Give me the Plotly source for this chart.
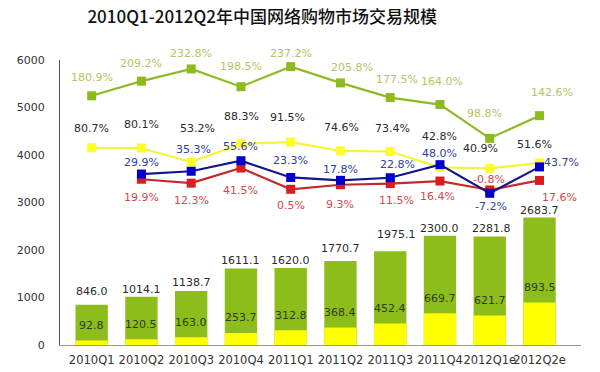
import plotly.graph_objects as go

categories = ['2010Q1', '2010Q2', '2010Q3', '2010Q4', '2011Q1', '2011Q2',
              '2011Q3', '2011Q4', '2012Q1e', '2012Q2e']
total_scale = [846.0, 1014.1, 1138.7, 1611.1, 1620.0, 1770.7, 1975.1, 2300.0, 2281.8, 2683.7]
part_scale = [92.8, 120.5, 163.0, 253.7, 312.8, 368.4, 452.4, 669.7, 621.7, 893.5]
growth_green = [180.9, 209.2, 232.8, 198.5, 237.2, 205.8, 177.5, 164.0, 98.8, 142.6]
growth_yellow = [80.7, 80.1, 53.2, 88.3, 91.5, 74.6, 73.4, 42.8, 40.9, 51.6]
growth_blue = [None, 29.9, 35.3, 55.6, 23.3, 17.8, 22.8, 48.0, -7.2, 43.7]
growth_red = [None, 19.9, 12.3, 41.5, 0.5, 9.3, 11.5, 16.4, -0.8, 17.6]

# label offsets (pixels) – styling only
green_dy = [18, 18, 15, 20, 13, 15, 18, 23, 25, 23]
green_dx = [0, 0, 0, 0, 0, 12, 7, 2, -5, 12]
yellow_dy = [19, 24, 33, 27, 25, 23, 23, 31, 20, 18]
yellow_dx = [0, 0, 6, 1, -3, 1, 2, 0, -9, -5]
blue_dy = [0, 12, 22, 14, 17, 11, 13, 11, -13, 4]
blue_dx = [0, 0, 2, 0, 0, 0, 7, 0, 1, 22]
red_dy = [0, -18, -17, -22, -16, -20, -17, -15, 10, -17]
red_dx = [0, 0, 0, 0, 0, 0, 6, -2, -1, 20]
total_dy = [13, 7, 8, 8, 8, 12, 17, 7, 8, 7]
total_dx = [0, 0, 0, 0, 0, 0, 6, 0, 2, 0]

GREEN = '#8CBD1A'
YELLOW = '#FFFF00'
FONT = 'DejaVu Sans'

fig = go.Figure()
fig.add_trace(go.Bar(x=categories, y=total_scale, marker_color=GREEN, marker_line_width=0,
                     hoverinfo='skip'))
fig.add_trace(go.Bar(x=categories, y=part_scale, marker_color=YELLOW, marker_line_width=0,
                     hoverinfo='skip'))

def line(vals, lc, mc):
    return go.Scatter(x=categories, y=vals, yaxis='y2', mode='lines+markers',
                      line=dict(color=lc, width=2.2),
                      marker=dict(symbol='square', size=9, color=mc),
                      hoverinfo='skip')

fig.add_trace(line(growth_green, '#8DBA25', '#8DBA1C'))
fig.add_trace(line(growth_yellow, '#F4F440', '#FFFF26'))
fig.add_trace(line(growth_red, '#C42A2A', '#D81E1E'))
fig.add_trace(line(growth_blue, '#14148C', '#0000CC'))

ann = []
def add_labels(vals, dys, dxs, color, yref):
    for c, v, dy, dx in zip(categories, vals, dys, dxs):
        if v is None:
            continue
        ann.append(dict(x=c, y=v, xref='x', yref=yref, text=f'{v:.1f}%', showarrow=False,
                        yshift=dy, xshift=dx, font=dict(family=FONT, size=11, color=color)))

add_labels(growth_green, green_dy, green_dx, '#B4C460', 'y2')
add_labels(growth_yellow, yellow_dy, yellow_dx, '#2A2A2A', 'y2')
add_labels(growth_blue, blue_dy, blue_dx, '#3040A0', 'y2')
add_labels(growth_red, red_dy, red_dx, '#D84848', 'y2')

for c, v, dy, dx in zip(categories, total_scale, total_dy, total_dx):
    ann.append(dict(x=c, y=v, xref='x', yref='y', text=f'{v:.1f}', showarrow=False,
                    yshift=dy, xshift=dx, font=dict(family=FONT, size=11, color='#2A2A2A')))
for c, v in zip(categories, part_scale):
    ann.append(dict(x=c, y=v, xref='x', yref='y', text=f'{v:.1f}', showarrow=False,
                    yshift=15, font=dict(family=FONT, size=11, color='#2F3A20')))

fig.update_layout(
    width=600, height=372,
    margin=dict(l=60, r=19, t=60, b=27),
    paper_bgcolor='white', plot_bgcolor='white',
    barmode='overlay', bargap=0.35,
    showlegend=False,
    title=dict(text='2010Q1-2012Q2年中国网络购物市场交易规模', x=0.437, xanchor='center',
               y=0.954, yanchor='middle',
               font=dict(family='Noto Sans CJK SC', size=17, color='#111111', weight=500)),
    xaxis=dict(type='category', tickangle=0, showline=True, linecolor='#999999', linewidth=1,
               ticks='', showgrid=False, ticklabelstandoff=4, automargin=False,
               tickfont=dict(family=FONT, size=11.5, color='#333333')),
    yaxis=dict(range=[0, 6000], tickvals=[0, 1000, 2000, 3000, 4000, 5000, 6000],
               showline=True, linecolor='#555555', linewidth=1, showgrid=False, zeroline=False,
               ticks='', ticklabelstandoff=12, automargin=False,
               tickfont=dict(family=FONT, size=11, color='#333333')),
    yaxis2=dict(range=[-300, 250], overlaying='y', side='right', visible=False,
                showgrid=False, zeroline=False),
    annotations=ann,
)

fig.write_html('out.html', config={'displayModeBar': False},
               post_script="document.body.style.margin='0';document.body.style.overflow='hidden';")
